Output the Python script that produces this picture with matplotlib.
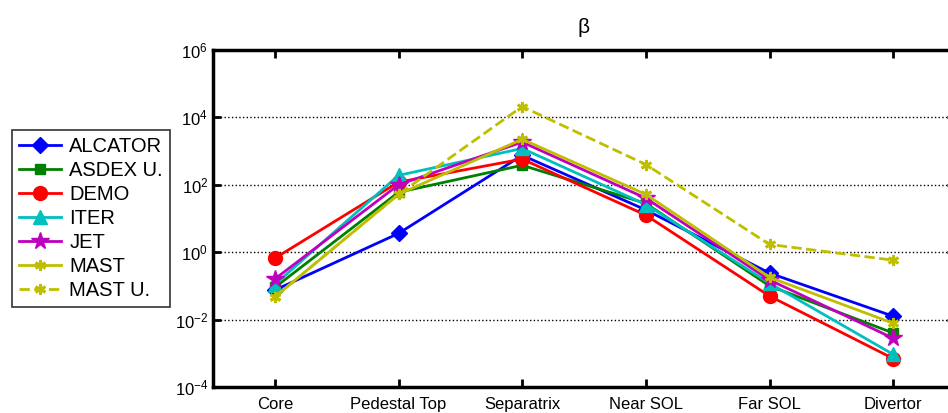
import numpy as np
import matplotlib
matplotlib.use('Agg')
import matplotlib.pyplot as plt

plt.rcParams['font.family'] = ['Liberation Sans', 'DejaVu Sans']

regions = ['Core', 'Pedestal Top', 'Separatrix', 'Near SOL', 'Far SOL', 'Divertor']
machines = ['ALCATOR', 'ASDEX U.', 'DEMO', 'ITER', 'JET', 'MAST', 'MAST U.']

alcator = [0.075, 3.6, 750, 18, 0.24, 0.0126]
asdex = [0.09, 60, 380, 28, 0.10, 0.004]
demo = [0.66, 120, 580, 12.6, 0.05, 0.0007]
iter_ = [0.11, 190, 1200, 26, 0.12, 0.00093]
jet = [0.16, 100, 1850, 40, 0.15, 0.0028]
mast = [0.047, 52, 2250, 52, 0.18, 0.0078]
mast_u = [0.047, 52, 21000, 400, 1.7, 0.58]

series = [alcator, asdex, demo, iter_, jet, mast, mast_u]
colors = ['#0000ff', '#008000', '#ff0000', '#00bfbf', '#bf00bf', '#bfbf00', '#bfbf00']
markers = ['D', 's', 'o', '^', '*', (6, 2, 0), (6, 2, 0)]
msizes = [8, 7, 10, 10, 13, 8, 8]
styles = ['-', '-', '-', '-', '-', '-', '--']

fig = plt.figure(figsize=(9.48, 4.13), dpi=100)
ax = fig.add_axes([213 / 948, 1 - 387 / 413, 742 / 948, 337 / 413])

x = np.arange(1, len(regions) + 1)
for vals, c, m, ms, ls, name in zip(series, colors, markers, msizes, styles, machines):
    ax.plot(x, vals, color=c, marker=m, markersize=ms, linestyle=ls,
            linewidth=2, markeredgewidth=2 if m == (6, 2, 0) else 1, label=name)

ax.set_yscale('log')
ax.set_ylim(1e-4, 1e6)
ax.set_xlim(0.5, 6.5)
ax.set_xticks(x)
ax.set_xticklabels(regions, fontsize=12)
ax.set_yticks([1e-4, 1e-2, 1e0, 1e2, 1e4, 1e6])
ax.yaxis.set_minor_locator(matplotlib.ticker.NullLocator())
ax.tick_params(axis='both', direction='in', length=6, width=2, labelsize=12,
               top=True, right=True)
ax.tick_params(axis='x', pad=7)
ax.yaxis.grid(True, linestyle=':', color='black', linewidth=1)
for s in ax.spines.values():
    s.set_linewidth(2.5)

ax.set_title('β', fontsize=15, pad=12)

fig.legend(loc='upper left', bbox_to_anchor=(12 / 948, 1 - 130 / 413),
           borderaxespad=0, fontsize=14.5, frameon=True, fancybox=False,
           edgecolor='black', handlelength=2.1, labelspacing=0.25,
           borderpad=0.35, handletextpad=0.4)
leg = fig.legends[0]
leg.get_frame().set_linewidth(1.2)

fig.savefig('out.png', dpi=100)
